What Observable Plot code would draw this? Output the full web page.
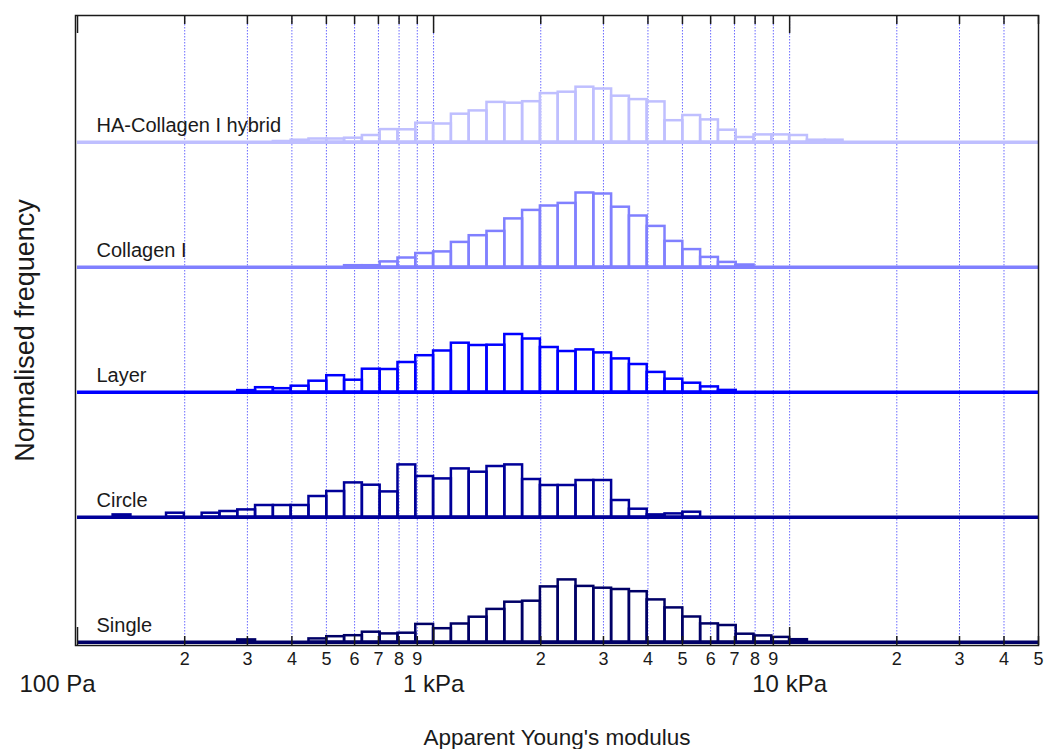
<!DOCTYPE html>
<html>
<head>
<meta charset="utf-8">
<script src="https://cdn.jsdelivr.net/npm/d3@7"></script>
<script src="https://cdn.jsdelivr.net/npm/@observablehq/plot@0.6"></script>
<style>
  html, body { margin: 0; padding: 0; background: #fff; }
  #chart svg { display: block; }
</style>
</head>
<body>
<div id="chart"></div>
<script>
// Histogram bins: 20 log-spaced bins per decade starting at 100 Pa (bin k spans 10^(2+k/20) .. 10^(2+(k+1)/20))
const binsPerDecade = 20;
const firstDecadeExp = 2;

// Bar heights (normalised frequency, arbitrary units) for bins k = 0..42
const singleHeights = [0,0,0,0,0,0,0,0,0,2.3, 0,0,0,3.3,5.5,6.5,10,8.3,9,17.8, 13.5,18.2,25,32.8,40,41,55.3,62.3,55.8,54, 52.7,50.5,42.3,34.3,25.2,18.3,16.7,8,6.3,4.8, 2.5,0,0];
const circleHeights = [0,0,2.3,0,0,4,0,4,5.7,7.3, 11.7,11.7,11.7,20.7,25.7,34.3,32,25.3,52.3,40.7, 38.3,48.3,45,50.7,52.3,37.7,31.7,31.7,36.7,36.7, 16.7,8,2.3,3.3,5,0,0,0,0,0, 0,0,0];
const layerHeights = [0,0,0,0,0,0,0,0,0,1.6, 4.5,3.5,6,11,16.5,12,23,22.7,29.7,36.5, 41.2,49,46.7,47,57.7,53.2,44.7,40.7,42.3,39.3, 33.3,27.7,19.8,13,9,5.3,1.8,0,0,0, 0,0,0];
const collagenHeights = [0,0,0,0,0,0,0,0,0,0, 0,0,0,0,0,1.5,1.5,5.3,9.2,13.7, 15.3,24.8,31.5,35.8,48.3,56.8,61.2,63.8,74.2,73.2, 60,51.2,40.8,25.8,17.6,9.8,4.8,2.2,0,0, 0,0,0];
const hybridHeights = [0,0,0,0,0,0,0,0,0,0, 0,0.7,2,3.2,3.2,4,6.7,12.6,12.4,19, 18.2,28,31.3,39.8,39,40.5,48.6,50,55,53.2, 46,42.6,40.3,21.5,26.7,22.3,12,4.7,7.3,7.3, 6.7,2,2];

const seriesNames = ["Single", "Circle", "Layer", "Collagen I", "HA-Collagen I hybrid"];
const seriesHeights = [singleHeights, circleHeights, layerHeights, collagenHeights, hybridHeights];
const seriesColors = ["#000066", "#000099", "#0000ff", "#8080ff", "#bfbfff"];
const seriesOffsets = [0, 125, 250, 375, 500];

// Axis ticks
const majorTicks = [100, 1000, 10000];
const majorTickLabels = ["100 Pa", "1 kPa", "10 kPa"];
const minorTicks = [200,300,400,500,600,700,800,900, 2000,3000,4000,5000,6000,7000,8000,9000, 20000,30000,40000,50000];
const minorTickLabels = ["2","3","4","5","6","7","8","9","2","3","4","5","6","7","8","9","2","3","4","5"];
const gridTicks = [200,300,400,500,600,700,800,900,1000, 2000,3000,4000,5000,6000,7000,8000,9000,10000, 20000,30000,40000];

const xLabel = "Apparent Young's modulus";
const yLabel = "Normalised frequency";

const xDomain = [98.7, 50000];
const yDomain = [-3.3, 626.7];

// Build tables
const bars = [];
seriesHeights.forEach((hs, s) => {
  hs.forEach((h, k) => {
    if (h > 0) bars.push({
      series: seriesNames[s],
      x1: 10 ** (firstDecadeExp + k / binsPerDecade),
      x2: 10 ** (firstDecadeExp + (k + 1) / binsPerDecade),
      y1: seriesOffsets[s],
      y2: seriesOffsets[s] + h,
      color: seriesColors[s]
    });
  });
});
const series = seriesNames.map((name, i) => ({name, offset: seriesOffsets[i], color: seriesColors[i]}));
const majors = majorTicks.map((v, i) => ({v, label: majorTickLabels[i]}));
const minors = minorTicks.map((v, i) => ({v, label: minorTickLabels[i]}));

const font = "'Liberation Sans', Arial, Helvetica, sans-serif";
const ink = "#1a1a1a";
const yBottom = yDomain[0], yTop = yDomain[1];

const chart = Plot.plot({
  width: 1045,
  height: 749,
  marginLeft: 75,
  marginRight: 7,
  marginTop: 15,
  marginBottom: 104,
  style: {fontFamily: font, background: "#fff", color: ink},
  x: {type: "log", domain: xDomain, axis: null},
  y: {domain: yDomain, axis: null},
  marks: [
    // grid
    Plot.ruleX(gridTicks, {x: d => d, stroke: "#6a6aff", strokeWidth: 1, strokeDasharray: "1.5,1.5"}),
    // baselines
    Plot.ruleY(series, {y: "offset", x1: () => 100, x2: () => 50000, stroke: "color", strokeWidth: 3.5}),
    // histogram bars
    Plot.rect(bars, {x1: "x1", x2: "x2", y1: "y1", y2: "y2", fill: "none", stroke: "color", strokeWidth: 2.5}),
    // series labels
    Plot.text(series, {y: "offset", frameAnchor: "left", dx: 21, dy: -10, text: "name", textAnchor: "start", lineAnchor: "bottom", fontSize: 20, fill: ink}),
    // frame
    Plot.frame({stroke: ink, strokeWidth: 1.5}),
    // bottom ticks
    Plot.ruleX(majors, {x: "v", y1: () => yBottom, y2: () => yBottom + 18, stroke: ink, strokeWidth: 1.5}),
    Plot.ruleX(minors, {x: "v", y1: () => yBottom, y2: () => yBottom + 9, stroke: ink, strokeWidth: 1.5}),
    // top ticks
    Plot.ruleX(majors, {x: "v", y1: () => yTop, y2: () => yTop - 18, stroke: ink, strokeWidth: 1.5}),
    Plot.ruleX(minors, {x: "v", y1: () => yTop, y2: () => yTop - 9, stroke: ink, strokeWidth: 1.5}),
    // tick labels
    Plot.text(minors, {x: "v", y: () => yBottom, text: "label", dy: 14, lineAnchor: "middle", fontSize: 18, fill: ink}),
    Plot.text(majors, {x: "v", y: () => yBottom, text: "label", dy: 39, lineAnchor: "middle", fontSize: 24, fill: ink}),
    // axis titles
    Plot.text([xLabel], {frameAnchor: "bottom", dy: 92, text: d => d, textAnchor: "middle", lineAnchor: "middle", fontSize: 22.5, fill: ink}),
    Plot.text([yLabel], {frameAnchor: "left", dx: -50, rotate: -90, text: d => d, textAnchor: "middle", lineAnchor: "middle", fontSize: 27, fill: ink})
  ]
});
document.getElementById("chart").appendChild(chart);
// the "100 Pa" label sits left of its tick in the reference
chart.querySelectorAll("text").forEach(t => {
  if (t.textContent === "100 Pa") {
    const cur = t.getAttribute("transform") || "";
    t.setAttribute("transform", cur + " translate(-20,0)");
  }
});
</script>
</body>
</html>
